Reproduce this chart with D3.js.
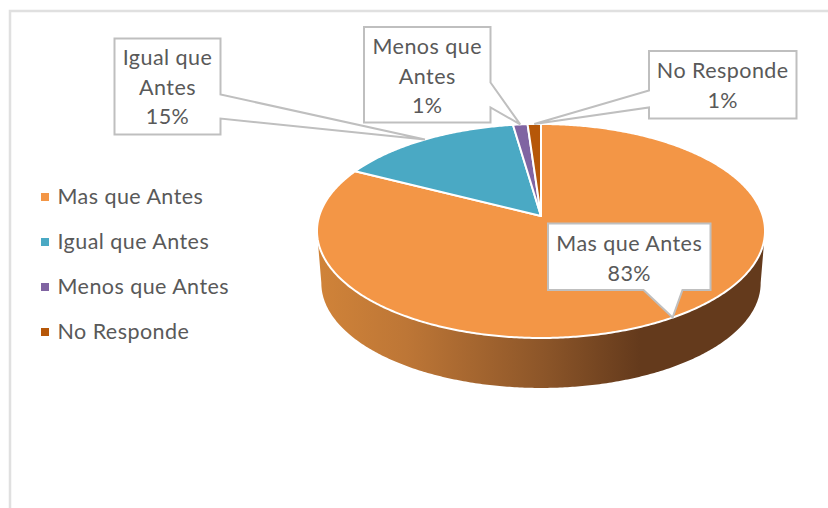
<!DOCTYPE html>
<html>
<head>
<meta charset="utf-8">
<script src="https://cdn.jsdelivr.net/npm/d3@7"></script>
<style>
html, body { margin: 0; padding: 0; background: #fff; overflow: hidden; }
text { font-family: Lato, 'Open Sans', sans-serif; fill: #595959; font-size: 21.5px; letter-spacing: 0.45px; }
</style>
</head>
<body>
<div id="chart"></div>
<script>
const categories = ['Mas que Antes', 'Igual que Antes', 'Menos que Antes', 'No Responde'];
const values = [82.5, 15.2, 1.2, 1.1];
const percentLabels = ['83%', '15%', '1%', '1%'];
const colors = ['#f39646', '#4aa9c4', '#8064a2', '#b65708'];

function main_pie() {
const width = 828, height = 508;

const svg = d3.select('#chart')
                .append('svg')
                .attr('width', width)
                .attr('height', height)
                .style('display', 'block');

// chart frame, only top and left show in the crop
svg.append('path')
    .attr('d', 'M10,' + height + 'V11H' + width)
    .style('fill', 'none')
    .style('stroke', '#e0e0e0')
    .style('stroke-width', 2.5);

// perspective of the tilted disc
const k = 0.14;
const scaleX = d3.scaleLinear().domain([-1, 1]).range([541 - 221.8, 541 + 221.8]);
const scaleY = d3.scaleLinear().domain([-1, 1]).range([216 + 104.9, 216 - 104.9]);
// lower rim of the disc is a little narrower
const scaleXLow = d3.scaleLinear().domain([-1, 1]).range([541 - 217.5, 541 + 217.5]);
const scaleYLow = d3.scaleLinear().domain([-1, 1]).range([268.4 + 102.8, 268.4 - 102.8]);

function project(a, sx, sy) {
    let u = Math.sin(a), v = Math.cos(a), d = 1 + k * v;
    return [(sx || scaleX)(u / d), (sy || scaleY)(v / d)];
}

function arcPoints(a0, a1, sx, sy) {
    let n = Math.max(2, Math.ceil(Math.abs(a1 - a0) / 0.01));
    return d3.range(n + 1).map(i => project(a0 + (a1 - a0) * i / n, sx, sy));
}

const line = d3.line();
const pie = d3.pie().sort(null).startAngle(0).endAngle(2 * Math.PI);
const slices = pie(values);

// side wall
const defs = svg.append('defs');
const grad = defs.append('linearGradient')
                .attr('id', 'sideGrad')
                .attr('gradientUnits', 'userSpaceOnUse')
                .attr('x1', 318).attr('x2', 765)
                .attr('y1', 0).attr('y2', 0);
grad.append('stop').attr('offset', 0).attr('stop-color', '#d08339');
grad.append('stop').attr('offset', 0.2).attr('stop-color', '#bd7636');
grad.append('stop').attr('offset', 0.5).attr('stop-color', '#8d5629');
grad.append('stop').attr('offset', 0.72).attr('stop-color', '#643a1c');
grad.append('stop').attr('offset', 1).attr('stop-color', '#643a1c');

// extreme left/right of the visible wall
const edge = Math.acos(-k);
const wallTop = arcPoints(edge, 2 * Math.PI - edge);
const wallLow = arcPoints(2 * Math.PI - edge, edge, scaleXLow, scaleYLow);

svg.append('path')
    .attr('d', line(wallTop.concat(wallLow)) + 'Z')
    .style('fill', 'url(#sideGrad)');

// top face
svg.selectAll('.slice')
    .data(slices)
    .enter()
    .append('path')
    .attr('class', 'slice')
    .attr('d', d => line([[scaleX(0), scaleY(0)]].concat(arcPoints(d.startAngle, d.endAngle))) + 'Z')
    .style('fill', (d, i) => colors[i])
    .style('stroke', '#fff')
    .style('stroke-width', 2)
    .style('stroke-linejoin', 'round');

// legend
const legendY = d3.scalePoint().domain(categories).range([197, 332]);

svg.selectAll('.legendMark')
    .data(categories)
    .enter()
    .append('rect')
    .attr('class', 'legendMark')
    .attr('x', 41)
    .attr('y', d => legendY(d) - 4)
    .attr('width', 8)
    .attr('height', 8)
    .style('fill', (d, i) => colors[i]);

svg.selectAll('.legendText')
    .data(categories)
    .enter()
    .append('text')
    .attr('class', 'legendText')
    .attr('x', 57.5)
    .attr('y', d => legendY(d) + 6.5)
    .text(d => d);

// callouts: box, side the pointer leaves from and text lines
const callouts = [
    {i: 0, x0: 548, x1: 710.5, y0: 223.5, y1: 290, side: 'bottom', a: 643.5, b: 682.5, lines: ['Mas que Antes', percentLabels[0]], base: 251},
    {i: 1, x0: 114.5, x1: 220.5, y0: 38.5, y1: 134.5, side: 'right', a: 94.5, b: 118.5, lines: ['Igual que', 'Antes', percentLabels[1]], base: 65},
    {i: 2, x0: 364, x1: 490.5, y0: 27, y1: 122.5, side: 'right', a: 82.5, b: 107.5, lines: ['Menos que', 'Antes', percentLabels[2]], base: 54},
    {i: 3, x0: 649, x1: 796.5, y0: 51, y1: 118.5, side: 'left', a: 90.5, b: 107.5, lines: ['No Responde', percentLabels[3]], base: 78}
];

function calloutPath(c) {
    let s = slices[c.i];
    let tip = project((s.startAngle + s.endAngle) / 2);
    let pts;
    if (c.side == 'bottom') {
        pts = [[c.x0, c.y0], [c.x1, c.y0], [c.x1, c.y1], [c.b, c.y1], tip, [c.a, c.y1], [c.x0, c.y1]];
    } else if (c.side == 'right') {
        pts = [[c.x0, c.y0], [c.x1, c.y0], [c.x1, c.a], tip, [c.x1, c.b], [c.x1, c.y1], [c.x0, c.y1]];
    } else {
        pts = [[c.x0, c.y0], [c.x1, c.y0], [c.x1, c.y1], [c.x0, c.y1], [c.x0, c.b], tip, [c.x0, c.a]];
    }
    return line(pts) + 'Z';
}

svg.selectAll('.callout')
    .data(callouts)
    .enter()
    .append('path')
    .attr('class', 'callout')
    .attr('d', calloutPath)
    .style('fill', '#fff')
    .style('stroke', '#bfbfbf')
    .style('stroke-width', 2);

callouts.forEach(c => {
    svg.selectAll('.lbl' + c.i)
        .data(c.lines)
        .enter()
        .append('text')
        .attr('class', 'lbl' + c.i)
        .attr('x', (c.x0 + c.x1) / 2)
        .attr('y', (d, j) => c.base + j * 29.5)
        .style('text-anchor', 'middle')
        .text(d => d);
});
}

main_pie();
</script>
</body>
</html>
